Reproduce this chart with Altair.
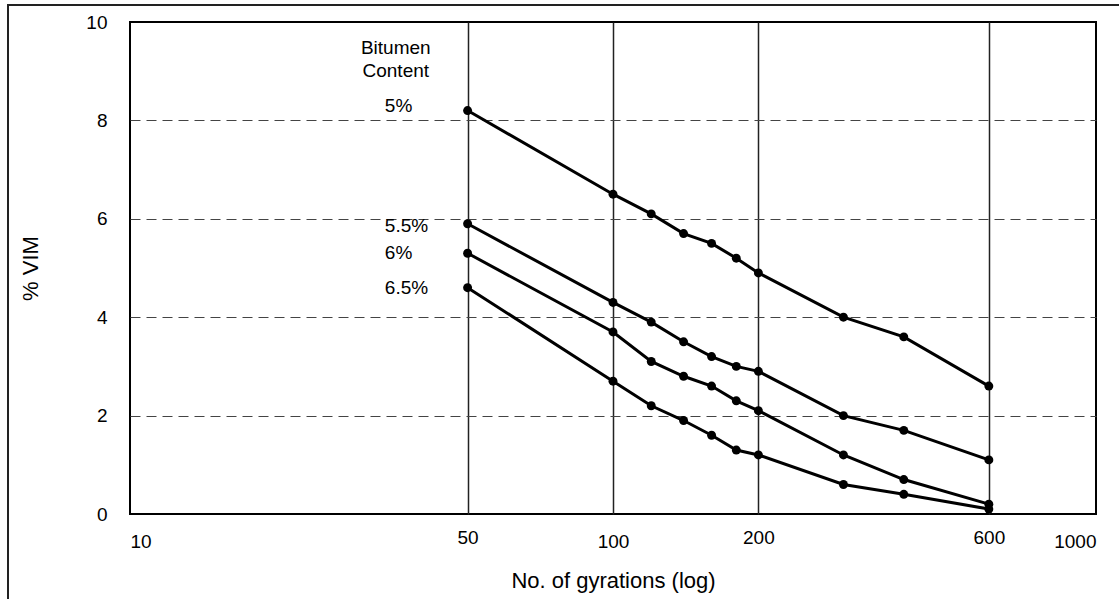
import altair as alt
import pandas as pd

# Gyration counts (log axis) and %VIM for each bitumen content
gyrations = [50, 100, 120, 140, 160, 180, 200, 300, 400, 600]
bitumen = ["5%", "5.5%", "6%", "6.5%"]
vim_5 = [8.2, 6.5, 6.1, 5.7, 5.5, 5.2, 4.9, 4.0, 3.6, 2.6]
vim_55 = [5.9, 4.3, 3.9, 3.5, 3.2, 3.0, 2.9, 2.0, 1.7, 1.1]
vim_6 = [5.3, 3.7, 3.1, 2.8, 2.6, 2.3, 2.1, 1.2, 0.7, 0.2]
vim_65 = [4.6, 2.7, 2.2, 1.9, 1.6, 1.3, 1.2, 0.6, 0.4, 0.1]

x_ticks = [10, 50, 100, 200, 600, 1000]
y_ticks = [0, 2, 4, 6, 8, 10]

# Series labels placed beside the first point of each curve
label_x = 33.7
label_y = [8.3, 5.85, 5.3, 4.6]
header_lines = ["Bitumen", "Content"]
header_x = 35.5
header_y = [9.47, 9.0]

FONT = "Liberation Sans"

rows = []
for name, vals in zip(bitumen, [vim_5, vim_55, vim_6, vim_65]):
    for g, v in zip(gyrations, vals):
        rows.append({"bitumen": name, "gyrations": g, "vim": v})
df = pd.DataFrame(rows)

labels_df = pd.DataFrame({"bitumen": bitumen, "x": [label_x] * 4, "y": label_y})
header_df = pd.DataFrame({"text": header_lines, "x": [header_x] * 2, "y": header_y})

x_scale = alt.Scale(type="log", domain=[10, 1000], nice=False)
y_scale = alt.Scale(domain=[0, 10], nice=False)

x_axis = alt.Axis(
    values=x_ticks, format="d", grid=True, gridColor="#222", gridWidth=1.5,
    gridOpacity={"condition": {"test": "datum.value == 10 || datum.value == 1000", "value": 0}, "value": 1},
    ticks=False, domain=False, labelFontSize=19, labelColor="#000",
    labelPadding={"condition": {"test": "indexof([50, 200, 600], datum.value) >= 0", "value": 14}, "value": 18},
    title="No. of gyrations (log)", titleFontSize=22, titleFontWeight="normal",
    titleColor="#000", titleX=483, titleY=73, titleAlign="center",
    titleBaseline="alphabetic",
)
y_axis = alt.Axis(
    values=y_ticks, grid=True, gridColor="#444", gridWidth=1, gridDash=[10, 6],
    gridOpacity={"condition": {"test": "datum.value == 0 || datum.value == 10", "value": 0}, "value": 1},
    ticks=False, domain=False, labelFontSize=19, labelColor="#000", labelPadding=23,
    title="% VIM", titleFontSize=22, titleFontWeight="normal", titleColor="#000",
    titleAngle=270, titleX=-93, titleY=246, titleAlign="center",
    titleBaseline="alphabetic",
)

lines = alt.Chart(df).mark_line(color="black", strokeWidth=3).encode(
    x=alt.X("gyrations:Q", scale=x_scale, axis=x_axis),
    y=alt.Y("vim:Q", scale=y_scale, axis=y_axis),
    detail="bitumen:N",
)
points = alt.Chart(df).mark_point(
    filled=True, color="black", size=80, opacity=1
).encode(
    x=alt.X("gyrations:Q", scale=x_scale),
    y=alt.Y("vim:Q", scale=y_scale),
)
series_labels = alt.Chart(labels_df).mark_text(
    align="left", baseline="middle", fontSize=19, font=FONT, color="#000"
).encode(
    x=alt.X("x:Q", scale=x_scale),
    y=alt.Y("y:Q", scale=y_scale),
    text="bitumen:N",
)
header = alt.Chart(header_df).mark_text(
    align="center", baseline="middle", fontSize=19, font=FONT, color="#000"
).encode(
    x=alt.X("x:Q", scale=x_scale),
    y=alt.Y("y:Q", scale=y_scale),
    text="text:N",
)

# Outer frame of the figure: top and left edges
one_row = pd.DataFrame({"k": [0]})
frame_top = alt.Chart(one_row).mark_rule(color="#222", strokeWidth=2).encode(
    x=alt.value(-123), x2=alt.value(1000), y=alt.value(-17), y2=alt.value(-17)
)
frame_left = alt.Chart(one_row).mark_rule(color="#222", strokeWidth=2).encode(
    x=alt.value(-122), x2=alt.value(-122), y=alt.value(-18), y2=alt.value(600)
)

chart = alt.layer(
    frame_top, frame_left, lines, points, series_labels, header
).properties(
    width=966, height=492,
    autosize=alt.AutoSizeParams(type="none"),
    padding={"left": 130, "top": 22, "right": 23, "bottom": 85},
    background="white",
).configure(
    font=FONT
).configure_view(
    stroke="black", strokeWidth=2
)

chart.save("out.html", embed_options={"renderer": "svg", "actions": False})
